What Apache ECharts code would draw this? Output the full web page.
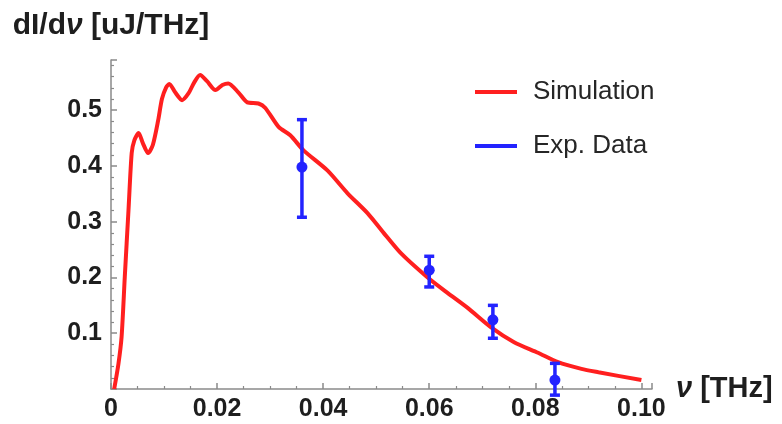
<!DOCTYPE html>
<html>
<head>
<meta charset="utf-8">
<script src="https://cdn.jsdelivr.net/npm/echarts@6/dist/echarts.min.js"></script>
<style>
html,body{margin:0;padding:0;background:#fff;}
#chart{width:782px;height:424px;filter:blur(0.5px);}
</style>
</head>
<body>
<div id="chart"></div>
<script>
// Simulation curve: frequency (THz) and dI/dν (uJ/THz)
const simFreq = [0.0006, 0.0014, 0.002, 0.0026, 0.0033, 0.0039, 0.0044, 0.0052, 0.006, 0.007, 0.0079, 0.0089, 0.0096, 0.0104, 0.011, 0.0121, 0.0134, 0.0146, 0.0157, 0.0168, 0.0181, 0.0197, 0.021, 0.0221, 0.024, 0.0257, 0.0278, 0.0291, 0.0316, 0.0338, 0.0363, 0.0408, 0.0446, 0.0484, 0.0514, 0.0546, 0.0597, 0.0635, 0.0673, 0.0716, 0.076, 0.0805, 0.0843, 0.0887, 0.0919, 0.1];
const simValue = [0, 0.045, 0.094, 0.201, 0.321, 0.423, 0.446, 0.459, 0.441, 0.423, 0.438, 0.482, 0.520, 0.541, 0.547, 0.532, 0.518, 0.530, 0.550, 0.563, 0.552, 0.536, 0.545, 0.548, 0.532, 0.514, 0.512, 0.504, 0.470, 0.455, 0.428, 0.392, 0.351, 0.315, 0.280, 0.244, 0.200, 0.172, 0.145, 0.111, 0.084, 0.065, 0.048, 0.036, 0.030, 0.016];

// Experimental data with error bars
const expFreq = [0.036, 0.060, 0.072, 0.0837];
const expValue = [0.398, 0.213, 0.124, 0.016];
const expLow = [0.308, 0.183, 0.091, -0.011];
const expHigh = [0.483, 0.238, 0.150, 0.046];

// Tick labels
const xTickLabels = ['0', '0.02', '0.04', '0.06', '0.08', '0.10'];
const yTickLabels = ['', '0.1', '0.2', '0.3', '0.4', '0.5'];

const seriesNames = ['Simulation', 'Exp. Data'];

const chart = echarts.init(document.getElementById('chart'), null, {renderer: 'canvas'});

const simData = simFreq.map((f, i) => [f, simValue[i]]);
const expData = expFreq.map((f, i) => [f, expValue[i], expLow[i], expHigh[i]]);

const axisColor = '#8a8a8a';
const fam = 'Liberation Sans, Arial, sans-serif';
const labelFont = {fontFamily: fam, fontWeight: 'bold', fontSize: 25, color: '#1e1e1e'};

const option = {
  backgroundColor: '#fff',
  animation: false,
  grid: {left: 111, top: 60, right: 130, bottom: 35, containLabel: false},
  legend: {
    orient: 'vertical',
    left: 470,
    top: 74,
    itemWidth: 42,
    itemHeight: 4,
    itemGap: 28,
    data: [
      {name: seriesNames[0], icon: 'rect'},
      {name: seriesNames[1], icon: 'rect'}
    ],
    textStyle: {fontFamily: fam, fontSize: 26, color: '#262626', padding: [0, 0, 0, 11]}
  },
  xAxis: {
    type: 'value',
    min: 0,
    max: 0.102,
    interval: 0.02,
    name: '{i|ν} [THz]',
    nameLocation: 'end',
    nameGap: 24,
    nameTextStyle: {
      fontFamily: fam, fontWeight: 'bold', fontSize: 29, color: '#1e1e1e',
      verticalAlign: 'middle',
      rich: {i: {fontFamily: fam, fontWeight: 'bold', fontStyle: 'italic', fontSize: 29, color: '#1e1e1e'}}
    },
    axisLine: {show: true, onZero: false, lineStyle: {color: axisColor, width: 1.5}},
    axisTick: {show: true, inside: true, length: 6, lineStyle: {color: axisColor, width: 1.5}},
    minorTick: {show: true, splitNumber: 4, length: 3, lineStyle: {color: axisColor, width: 1.2}},
    splitLine: {show: false},
    axisLabel: Object.assign({
      margin: 8,
      showMaxLabel: false,
      formatter: v => xTickLabels[Math.round(v / 0.02)] || ''
    }, labelFont)
  },
  yAxis: {
    type: 'value',
    min: 0,
    max: 0.59,
    interval: 0.1,
    name: 'dI/d{i|ν} [uJ/THz]',
    nameLocation: 'end',
    nameGap: 34,
    nameTextStyle: {
      fontFamily: fam, fontWeight: 'bold', fontSize: 30, color: '#1e1e1e',
      verticalAlign: 'middle', align: 'center',
      rich: {i: {fontFamily: fam, fontWeight: 'bold', fontStyle: 'italic', fontSize: 30, color: '#1e1e1e'}}
    },
    axisLine: {show: true, onZero: false, lineStyle: {color: axisColor, width: 1.5}},
    axisTick: {show: true, inside: true, length: 6, lineStyle: {color: axisColor, width: 1.5}},
    minorTick: {show: true, splitNumber: 5, length: 3, lineStyle: {color: axisColor, width: 1.2}},
    splitLine: {show: false},
    axisLabel: Object.assign({
      margin: 9,
      showMinLabel: false,
      showMaxLabel: false,
      formatter: v => yTickLabels[Math.round(v / 0.1)] || ''
    }, labelFont)
  },
  series: [
    {
      name: seriesNames[0],
      type: 'line',
      data: simData,
      smooth: 0.25,
      showSymbol: false,
      symbol: 'none',
      color: '#ff1f1f',
      lineStyle: {color: '#ff1f1f', width: 4},
      z: 2
    },
    {
      name: seriesNames[1],
      type: 'custom',
      color: '#2323ff',
      itemStyle: {color: '#2323ff'},
      data: expData,
      clip: false,
      z: 3,
      renderItem: function (params, api) {
        const x = api.value(0);
        const p = api.coord([x, api.value(1)]);
        const lo = api.coord([x, api.value(2)]);
        const hi = api.coord([x, api.value(3)]);
        const cap = 5;
        const style = {stroke: '#2323ff', lineWidth: 3.5};
        return {
          type: 'group',
          children: [
            {type: 'line', shape: {x1: lo[0], y1: lo[1], x2: hi[0], y2: hi[1]}, style: style},
            {type: 'line', shape: {x1: hi[0] - cap, y1: hi[1], x2: hi[0] + cap, y2: hi[1]}, style: style},
            {type: 'line', shape: {x1: lo[0] - cap, y1: lo[1], x2: lo[0] + cap, y2: lo[1]}, style: style},
            {type: 'circle', shape: {cx: p[0], cy: p[1], r: 5.5}, style: {fill: '#2323ff'}}
          ]
        };
      }
    }
  ]
};
chart.setOption(option);
</script>
</body>
</html>
